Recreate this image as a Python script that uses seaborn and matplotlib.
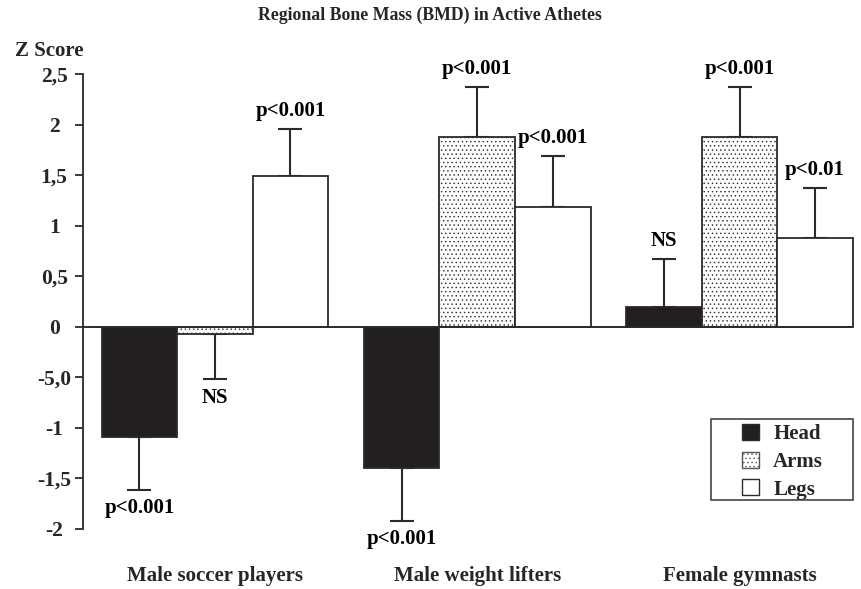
import numpy as np
import pandas as pd
import matplotlib
matplotlib.use("Agg")
import matplotlib.pyplot as plt
import seaborn as sns
from matplotlib.patches import Rectangle, Patch

# ---- data ----
groups = ["Male soccer players", "Male weight lifters", "Female gymnasts"]
regions = ["Head", "Arms", "Legs"]
head_z = [-1.09, -1.40, 0.20]
arms_z = [-0.07, 1.88, 1.88]
legs_z = [1.49, 1.19, 0.88]
head_sd = [0.52, 0.52, 0.47]
arms_sd = [0.45, 0.49, 0.49]
legs_sd = [0.47, 0.50, 0.49]
head_sig = ["p<0.001", "p<0.001", "NS"]
arms_sig = ["NS", "p<0.001", "p<0.001"]
legs_sig = ["p<0.001", "p<0.001", "p<0.01"]
y_ticks = [-2, -1.5, -1, -0.5, 0, 0.5, 1, 1.5, 2, 2.5]
y_tick_labels = ["-2", "-1,5", "-1", "-5,0", "0", "0,5", "1", "1,5", "2", "2,5"]
title = "Regional Bone Mass (BMD) in Active Athetes"

sns.set_style("ticks")
plt.rcParams["font.family"] = ["Liberation Serif", "DejaVu Serif"]
plt.rcParams["font.weight"] = "bold"
plt.rcParams["hatch.color"] = "#c2c2c2"
plt.rcParams["hatch.linewidth"] = 0.5

ink = "#2b2b2b"
hatch_col = "#c2c2c2"

df = pd.DataFrame({
    "group": groups * 3,
    "region": ["Head"] * 3 + ["Arms"] * 3 + ["Legs"] * 3,
    "z": head_z + arms_z + legs_z,
})
sds = {"Head": head_sd, "Arms": arms_sd, "Legs": legs_sd}
sigs = {"Head": head_sig, "Arms": arms_sig, "Legs": legs_sig}
vals = {"Head": head_z, "Arms": arms_z, "Legs": legs_z}

fig = plt.figure(figsize=(8.61, 5.89), dpi=100)
ax = fig.add_axes([83.3 / 861, 1 - 529 / 589, (854 - 83.3) / 861, (529 - 74.3) / 589])

sns.barplot(data=df, x="group", y="z", hue="region", order=groups, hue_order=regions,
            palette={"Head": "#231f20", "Arms": "#fdfdfd", "Legs": "white"},
            saturation=1, width=0.864, errorbar=None, edgecolor=ink, linewidth=1.3,
            legend=False, ax=ax, zorder=2)

for cont, reg in zip(ax.containers, regions):
    for bar, v, sd, sig in zip(cont, vals[reg], sds[reg], sigs[reg]):
        if reg == "Arms":
            bar.set_hatch("....")
            if hasattr(bar, "set_hatchcolor"):
                bar.set_hatchcolor(hatch_col)
        x = bar.get_x() + bar.get_width() / 2
        sign = 1 if v >= 0 else -1
        yerr = [[0], [sd]] if sign > 0 else [[sd], [0]]
        ax.errorbar([x], [v], yerr=yerr, fmt="none", ecolor=ink, elinewidth=1.5,
                    capsize=8.5, capthick=1.5, zorder=1)
        ax.annotate(sig, xy=(x, v + sign * sd), xytext=(0, 6 * sign),
                    textcoords="offset points", ha="center",
                    va="bottom" if sign > 0 else "top", fontsize=15,
                    fontweight="bold", color="black")

ax.set_xlim(-0.502, 2.4365)
ax.set_ylim(-2, 2.5)
ax.plot([-0.502, 2.43], [0, 0], color=ink, lw=1.4, zorder=3)
ax.set_yticks(y_ticks, y_tick_labels)
for lab in ax.get_yticklabels():
    lab.set_horizontalalignment("center")
ax.tick_params(axis="y", length=6, width=1.3, color=ink, pad=15, labelsize=15.5)
ax.tick_params(axis="x", length=0, pad=27, labelsize=15)
for lab in ax.get_xticklabels() + ax.get_yticklabels():
    lab.set_fontweight("bold")
ax.set_xlabel("")
ax.set_ylabel("")
for s in ["top", "right", "bottom"]:
    ax.spines[s].set_visible(False)
ax.spines["left"].set_color(ink)
ax.spines["left"].set_linewidth(1.3)

# legend
arms_handle = Patch(facecolor="#fdfdfd", edgecolor="#555555", lw=1, hatch="....")
if hasattr(arms_handle, "set_hatchcolor"):
    arms_handle.set_hatchcolor(hatch_col)
handles = [Patch(facecolor="#231f20", edgecolor=ink, lw=1),
           arms_handle,
           Patch(facecolor="white", edgecolor=ink, lw=1)]
ax.legend(handles=handles, labels=regions, loc="upper left",
          bbox_to_anchor=(742 / 861, 1 - 424 / 589), bbox_transform=fig.transFigure,
          frameon=False, borderpad=0, borderaxespad=0, handlelength=0.8,
          handleheight=0.8, handletextpad=0.7, labelspacing=0.36,
          prop={"size": 15, "weight": "bold", "family": "Liberation Serif"})
fig.patches.append(Rectangle((711 / 861, 1 - 500 / 589), 142 / 861, 81 / 589,
                             transform=fig.transFigure, fill=False, edgecolor="#444444",
                             lw=1.2))

fig.text(0.4994, 1 - 15.5 / 589, title, ha="center", va="center", fontsize=12.8,
         fontweight="bold")
fig.text(49 / 861, 1 - 50.7 / 589, "Z Score", ha="center", va="center", fontsize=15,
         fontweight="bold")

fig.savefig("out.png", dpi=100)
